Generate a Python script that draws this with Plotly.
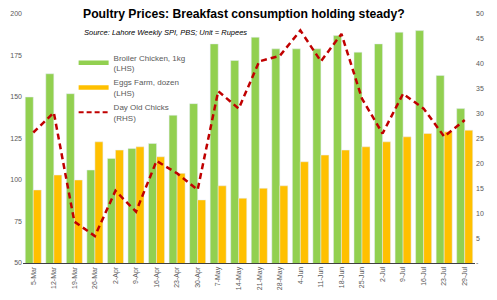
import plotly.graph_objects as go

dates = ["5-Mar", "12-Mar", "19-Mar", "26-Mar", "2-Apr", "9-Apr", "16-Apr", "23-Apr", "30-Apr",
         "7-May", "14-May", "21-May", "28-May", "4-Jun", "11-Jun", "18-Jun", "25-Jun",
         "2-Jul", "9-Jul", "16-Jul", "23-Jul", "29-Jul"]
broiler = [150, 164, 152, 106, 113, 119, 122, 139, 146, 182, 172, 186, 179, 179, 179, 187, 177,
           182, 189, 190, 163, 143]
eggs = [94, 103, 100, 123, 118, 120, 114, 104, 88, 96.5, 89, 95, 96.5, 111, 115, 118, 120,
        123, 126, 128, 129, 130]
chicks = [26.2, 30.2, 8.3, 5.4, 14.5, 10.3, 20.5, 18, 14.7, 34.5, 31, 40.5, 41.6, 46.7, 40.5, 46,
          33, 26, 34, 31, 25.4, 28.7]
left_ticks = [50, 75, 100, 125, 150, 175, 200]
right_ticks = [0, 5, 10, 15, 20, 25, 30, 35, 40, 45, 50]
right_labels = ["-"] + [str(v) for v in right_ticks[1:]]

GREEN = "#92D050"
YELLOW = "#FFC000"
RED = "#C00000"
GRAY = "#595959"
FONT = "Liberation Sans, Arial, sans-serif"

fig = go.Figure()
fig.add_trace(go.Bar(x=dates, y=broiler, marker_color=GREEN, showlegend=False, yaxis="y"))
fig.add_trace(go.Bar(x=dates, y=eggs, marker_color=YELLOW, showlegend=False, yaxis="y"))
fig.add_trace(go.Scatter(x=dates, y=chicks, mode="lines", yaxis="y2", showlegend=False,
                         line=dict(color=RED, width=2.5, dash="6px,4px")))

# legend-only entries
fig.add_trace(go.Scatter(x=[None], y=[None], mode="lines", name="Broiler Chicken, 1kg<br>(LHS)",
                         legendgroup="a", line=dict(color=GREEN, width=4.5)))
fig.add_trace(go.Scatter(x=[None], y=[None], mode="lines", name="Eggs Farm, dozen<br>(LHS)",
                         legendgroup="b", line=dict(color=YELLOW, width=4.5)))
fig.add_trace(go.Scatter(x=[None], y=[None], mode="lines", name="Day Old Chicks<br>(RHS)",
                         legendgroup="c", line=dict(color=RED, width=2, dash="5px,3px")))

fig.update_layout(
    width=497, height=300,
    margin=dict(l=20, r=22, t=10, b=32),
    paper_bgcolor="white", plot_bgcolor="white",
    font=dict(family=FONT, size=7.5, color=GRAY),
    barmode="group", bargap=0.22, bargroupgap=0,
    xaxis=dict(type="category", tickangle=-90, showgrid=False, showline=True,
               linecolor="#404040", linewidth=1, ticks="", tickfont=dict(size=7, color=GRAY)),
    yaxis=dict(range=[50, 200], tickvals=left_ticks, showgrid=False, zeroline=False,
               showline=False, ticks="", tickfont=dict(size=7, color=GRAY)),
    yaxis2=dict(range=[0, 50], tickvals=right_ticks, ticktext=right_labels, overlaying="y",
                side="right", showgrid=False, zeroline=False, showline=False, ticks="",
                tickfont=dict(size=7, color=GRAY)),
    legend=dict(x=0.112, y=0.872, xanchor="left", yanchor="top", bgcolor="rgba(0,0,0,0)",
                font=dict(size=8, color=GRAY), itemwidth=30, traceorder="grouped",
                tracegroupgap=1),
    annotations=[
        dict(text="<b>Poultry Prices: Breakfast consumption holding steady?</b>",
             xref="paper", yref="paper", x=0.128, y=1.0, xanchor="left", yanchor="middle",
             showarrow=False, font=dict(size=12.2, color="#000000", family=FONT)),
        dict(text="<i>Source: Lahore Weekly SPI, PBS; Unit = Rupees</i>",
             xref="paper", yref="paper", x=0.13, y=0.925, xanchor="left", yanchor="middle",
             showarrow=False, font=dict(size=7.5, color="#000000", family=FONT)),
    ],
)

fig.write_html("out.html")
